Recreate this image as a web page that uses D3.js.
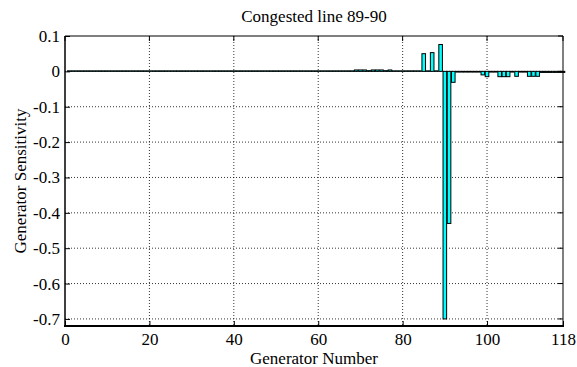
<!DOCTYPE html>
<html>
<head>
<meta charset="utf-8">
<script src="https://cdn.jsdelivr.net/npm/d3@7"></script>
<style>
  body { margin: 0; background: #fff; }
  svg text { font-family: "Liberation Serif", "DejaVu Serif", serif; fill: #000; }
</style>
</head>
<body>
<script>
// generator numbers 1..118 and their sensitivity to line 89-90
const generators = d3.range(1, 119);
const sensitivity = [
  0.0015, 0.0015, 0.0015, 0.0015, 0.0015, 0.0015, 0.0015, 0.0015, 0.0015, 0.0015,
  0.0015, 0.0015, 0.0015, 0.0015, 0.0015, 0.0015, 0.0015, 0.0015, 0.0015, 0.0015,
  0.0015, 0.0015, 0.0015, 0.0015, 0.0015, 0.0015, 0.0015, 0.0015, 0.0015, 0.0015,
  0.0015, 0.0015, 0.0015, 0.0015, 0.0015, 0.0015, 0.0015, 0.0015, 0.0015, 0.0015,
  0.0015, 0.0015, 0.0015, 0.0015, 0.0015, 0.0015, 0.0015, 0.0015, 0.0015, 0.0015,
  0.0015, 0.0015, 0.0015, 0.0015, 0.0015, 0.0015, 0.0015, 0.0015, 0.0015, 0.0015,
  0.0015, 0.0015, 0.0015, 0.0015, 0.0015, 0.0015, 0.0015, 0.0015, 0.004, 0.004,
  0.004, 0.002, 0.004, 0.004, 0.004, 0.002, 0.004, 0.0015, 0.0015, 0.0015,
  0.0015, 0.0015, 0.0015, 0.0015, 0.05, 0.0015, 0.053, 0.0015, 0.076, -0.70,
  -0.43, -0.031, -0.002, -0.002, -0.002, -0.002, -0.002, -0.002, -0.01, -0.015,
  -0.002, -0.002, -0.015, -0.015, -0.015, -0.002, -0.014, -0.002, -0.002, -0.014,
  -0.014, -0.014, -0.003, -0.003, -0.003, -0.003, -0.003, -0.003
];
const xTicks = [0, 20, 40, 60, 80, 100, 118];
const yTicks = [0.1, 0, -0.1, -0.2, -0.3, -0.4, -0.5, -0.6, -0.7];

const W = 577, H = 367;
const mLeft = 65, mRight = 563, mTop = 36, mBottom = 326;
const fontFam = "'Liberation Serif', 'DejaVu Serif', serif";
const fs = 17;

const svg = d3.select("body").append("svg")
  .attr("width", W).attr("height", H);

const x = d3.scaleLinear().domain([0, 118]).range([mLeft, mRight]);
const y = d3.scaleLinear().domain([-0.72, 0.1]).range([mBottom, mTop]);

// dotted grid
svg.append("g").selectAll("line")
  .data(xTicks.filter(d => d > 0 && d < 118))
  .enter().append("line")
    .attr("x1", d => x(d)).attr("x2", d => x(d))
    .attr("y1", mTop).attr("y2", mBottom)
    .attr("stroke", "#000").attr("stroke-width", 0.8)
    .attr("stroke-dasharray", "1,2");

svg.append("g").selectAll("line")
  .data(yTicks.filter(d => d < 0.1))
  .enter().append("line")
    .attr("x1", mLeft).attr("x2", mRight)
    .attr("y1", d => y(d)).attr("y2", d => y(d))
    .attr("stroke", "#000").attr("stroke-width", 0.8)
    .attr("stroke-dasharray", "1,2");

// bars
const bw = x(0.85) - x(0);
svg.append("g").selectAll("rect")
  .data(generators)
  .enter().append("rect")
    .attr("x", d => x(d) - bw / 2)
    .attr("y", (d, i) => y(Math.max(0, sensitivity[i])))
    .attr("width", bw)
    .attr("height", (d, i) => Math.abs(y(sensitivity[i]) - y(0)))
    .attr("fill", "#00ffff")
    .attr("stroke", "#000")
    .attr("stroke-width", 1);

// axes with inward ticks
const xAxis = d3.axisBottom(x).tickValues(xTicks).tickSizeInner(-5).tickSizeOuter(0).tickPadding(6.5);
const yAxis = d3.axisLeft(y).tickValues(yTicks).tickSizeInner(-5).tickSizeOuter(0).tickPadding(5)
  .tickFormat(d => d === 0 ? "0" : d3.format(".1f")(d).replace("\u2212", "-"));

const gx = svg.append("g").attr("transform", "translate(0," + mBottom + ")").call(xAxis);
const gy = svg.append("g").attr("transform", "translate(" + mLeft + ",0)").call(yAxis);
[gx, gy].forEach(g => {
  g.attr("font-family", fontFam).attr("font-size", fs);
  g.select(".domain").remove();
  g.selectAll("text").style("font-family", fontFam).style("font-size", fs + "px");
  g.selectAll("line").attr("stroke", "#000");
});
gx.selectAll(".tick text").attr("dy", "0.71em");

// right side ticks and top ticks
svg.append("g").selectAll("line").data(yTicks).enter().append("line")
  .attr("x1", mRight).attr("x2", mRight - 5)
  .attr("y1", d => y(d)).attr("y2", d => y(d)).attr("stroke", "#000");
svg.append("g").selectAll("line").data(xTicks).enter().append("line")
  .attr("x1", d => x(d)).attr("x2", d => x(d))
  .attr("y1", mTop).attr("y2", mTop + 5).attr("stroke", "#000");

// frame
svg.append("line").attr("x1", mLeft).attr("x2", mRight).attr("y1", mTop).attr("y2", mTop).attr("stroke", "#000");
svg.append("line").attr("x1", mRight).attr("x2", mRight).attr("y1", mTop).attr("y2", mBottom).attr("stroke", "#000");
svg.append("line").attr("x1", mLeft).attr("x2", mLeft).attr("y1", mTop).attr("y2", mBottom).attr("stroke", "#000").attr("stroke-width", 1.5);
svg.append("line").attr("x1", mLeft - 1).attr("x2", mRight + 1).attr("y1", mBottom).attr("y2", mBottom).attr("stroke", "#000").attr("stroke-width", 2);

// labels
svg.append("text")
  .attr("x", (mLeft + mRight) / 2).attr("y", 22)
  .attr("text-anchor", "middle").style("font-size", fs + "px")
  .text("Congested line 89-90");

svg.append("text")
  .attr("x", (mLeft + mRight) / 2).attr("y", 363.5)
  .attr("text-anchor", "middle").style("font-size", fs + "px")
  .text("Generator Number");

svg.append("text")
  .attr("transform", "translate(26," + (mTop + mBottom) / 2 + ") rotate(-90)")
  .attr("text-anchor", "middle").style("font-size", fs + "px")
  .text("Generator Sensitivity");
</script>
</body>
</html>
